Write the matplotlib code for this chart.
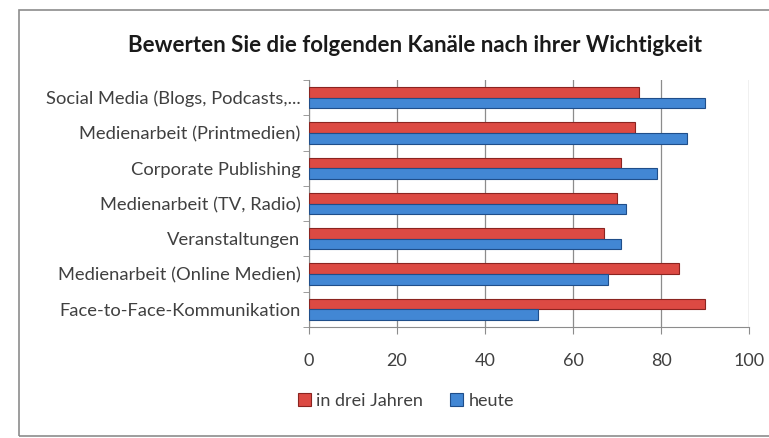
import matplotlib
matplotlib.use("Agg")
import matplotlib.pyplot as plt
import numpy as np
from matplotlib.patches import Rectangle

categories = ["Face-to-Face-Kommunikation", "Medienarbeit (Online Medien)", "Veranstaltungen",
              "Medienarbeit (TV, Radio)", "Corporate Publishing", "Medienarbeit (Printmedien)",
              "Social Media (Blogs, Podcasts,..."]
in_drei_jahren = [90, 84, 67, 70, 71, 74, 75]
heute = [52, 68, 71, 72, 79, 86, 90]
xticks = [0, 20, 40, 60, 80, 100]

plt.rcParams['font.family'] = ['Lato', 'DejaVu Sans']

fig = plt.figure(figsize=(7.69, 4.38), dpi=100)
fig.patches.append(Rectangle((19/769, 2/438), 760/769, 426/438, transform=fig.transFigure,
                             fill=False, edgecolor='#8c8c8c', linewidth=1.2))
ax = fig.add_axes([309/769, 1-327/438, 440/769, 247/438])

y = np.arange(len(categories))
h = 0.3
red = '#DC4A43'
blue = '#4287D4'
ax.barh(y + h/2, in_drei_jahren, height=h, color=red, edgecolor='#8B2420', linewidth=0.8,
        label='in drei Jahren', zorder=3)
ax.barh(y - h/2, heute, height=h, color=blue, edgecolor='#1F4E8A', linewidth=0.8,
        label='heute', zorder=3)

ax.set_xlim(0, 100)
ax.set_ylim(-0.5, len(categories) - 0.5)
ax.set_xticks(xticks)
ax.set_xticklabels([str(t) for t in xticks], fontsize=13, color='#404040')
ax.set_yticks(y)
ax.set_yticklabels(categories, fontsize=13.2, color='#404040')
ax.set_yticks(np.arange(-0.5, len(categories), 1), minor=True)
ax.tick_params(axis='y', which='major', length=0, pad=6)
ax.tick_params(axis='y', which='minor', length=4, color='#8c8c8c')
ax.tick_params(axis='x', length=5, color='#8c8c8c', pad=14)
ax.grid(axis='x', color='#8c8c8c', linewidth=0.9, zorder=0)
for s in ['top', 'right']:
    ax.spines[s].set_visible(False)
for s in ['left', 'bottom']:
    ax.spines[s].set_color('#8c8c8c')

fig.text(415/769, 1-45/438, "Bewerten Sie die folgenden Kanäle nach ihrer Wichtigkeit",
         ha='center', va='center', fontsize=16, fontweight='bold', color='#1a1a1a')

leg = fig.legend(loc='center', bbox_to_anchor=(406/769, 1-401/438), ncol=2, frameon=False,
                 fontsize=13, handlelength=0.7, handleheight=0.7, handletextpad=0.3,
                 columnspacing=1.5, labelcolor='#404040')

fig.savefig("out.png", dpi=100)
